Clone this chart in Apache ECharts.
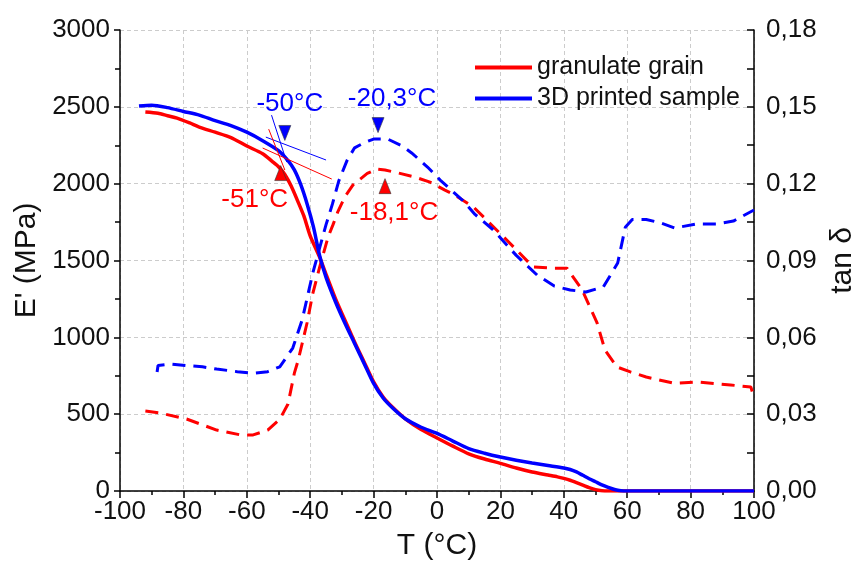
<!DOCTYPE html>
<html>
<head>
<meta charset="utf-8">
<script src="https://cdn.jsdelivr.net/npm/echarts@6/dist/echarts.min.js"></script>
<style>html,body{margin:0;padding:0;background:#fff}#c{width:851px;height:572px}</style>
</head>
<body>
<div id="c"></div>
<script>
// ---- data ----
const xTicks = [-100, -80, -60, -40, -20, 0, 20, 40, 60, 80, 100];
const seriesNames = ['granulate grain', '3D printed sample'];

// Storage modulus E' (MPa)
const tempRedE = [-92, -88, -85, -82, -78, -75, -70, -65, -60, -55, -52, -50, -48, -46, -44, -42, -40, -37, -35, -32, -29, -26, -23, -20, -17, -14, -10, -5, 0, 5, 10, 15, 20, 25, 30, 35, 38, 40, 42, 44, 46, 48, 50, 52, 54, 60, 70, 80, 90, 100];
const redE = [2466, 2458, 2442, 2427, 2395, 2368, 2335, 2300, 2245, 2195, 2145, 2110, 2060, 1985, 1890, 1790, 1660, 1520, 1410, 1250, 1110, 970, 840, 710, 612, 545, 470, 400, 345, 292, 242, 208, 180, 150, 124, 104, 92, 82, 70, 54, 38, 22, 9, 2, 0, 0, 0, 0, 0, 0];

const tempBlueE = [-94, -90, -85, -80, -75, -70, -65, -60, -55, -50, -47, -45, -43, -41, -39, -37, -35, -32, -29, -26, -23, -20, -17, -14, -10, -5, 0, 5, 10, 15, 20, 25, 30, 35, 40, 42, 44, 46, 48, 50, 52, 54, 56, 58, 60, 70, 80, 90, 100];
const blueE = [2505, 2511, 2495, 2470, 2446, 2410, 2378, 2335, 2280, 2215, 2150, 2090, 1995, 1870, 1720, 1530, 1390, 1230, 1090, 960, 830, 700, 605, 540, 470, 415, 375, 325, 276, 246, 221, 200, 182, 166, 150, 140, 124, 102, 80, 60, 40, 24, 10, 2, 0, 0, 0, 0, 0];

// Loss factor tan delta
const tempRedTan = [-92, -87.5, -79, -69.5, -62, -58, -53.4, -49.6, -47, -45, -43.8, -41, -39.2, -37, -34.4, -32.8, -31.3, -29, -26.5, -22, -19, -16.4, -13.3, -7, -2.2, 2.5, 5, 11.4, 22, 30.3, 36.6, 41, 45.8, 50.5, 53, 56.8, 61, 66, 75, 82, 92.6, 99, 100];
const redTan = [0.0312, 0.0305, 0.0281, 0.0238, 0.0219, 0.0219, 0.0238, 0.028, 0.034, 0.046, 0.051, 0.0656, 0.077, 0.0875, 0.099, 0.104, 0.109, 0.115, 0.1195, 0.124, 0.1257, 0.1253, 0.1245, 0.1226, 0.1206, 0.1175, 0.116, 0.111, 0.098, 0.0875, 0.087, 0.087, 0.0785, 0.0656, 0.055, 0.0484, 0.0465, 0.0445, 0.042, 0.0426, 0.0414, 0.0406, 0.0367];

const tempBlueTan = [-88.3, -88, -84, -79, -74, -69.5, -63, -58, -53.4, -49.6, -45.5, -42.5, -39.2, -37, -35, -33, -31, -28.4, -26, -23, -20, -15.5, -11, -8, -3, 1, 8, 12, 17.7, 25, 31.6, 37, 42, 47, 52.5, 57, 59.4, 61.6, 66, 70.5, 75, 82, 88.5, 93.5, 100];
const blueTan = [0.0465, 0.049, 0.0496, 0.049, 0.0485, 0.0476, 0.0466, 0.046, 0.0466, 0.0485, 0.0558, 0.067, 0.085, 0.095, 0.104, 0.112, 0.121, 0.129, 0.134, 0.136, 0.1374, 0.1374, 0.1347, 0.132, 0.1265, 0.1214, 0.1136, 0.108, 0.102, 0.092, 0.0843, 0.080, 0.0785, 0.0777, 0.0797, 0.089, 0.103, 0.106, 0.106, 0.1047, 0.1027, 0.1043, 0.1043, 0.1054, 0.1097];

// Tangent construction lines (onset), on E' axis: [x, E']
const blueTangentSteep = [[-52.2, 2446], [-47.4, 2140]];
const blueTangentFlat = [[-54, 2303], [-35, 2154]];
const redTangentSteep = [[-53.1, 2355], [-48, 2089]];
const redTangentFlat = [[-55, 2232], [-33.2, 2030]];

// Marked transition temperatures: [x, E'] and labels
const blueMarks = [[-48, 2330], [-18.6, 2381]];
const blueMarkLabels = ['-50°C', '-20,3°C'];
const redMarks = [[-49.3, 2069], [-16.4, 1984]];
const redMarkLabels = ['-51°C', '-18,1°C'];

// ---- chart ----
const RED = '#ff0000', BLUE = '#0000ff';
const FONT = "'Liberation Sans', Arial, sans-serif";
const zip = (a, b) => a.map((v, i) => [v, b[i]]);

const chart = echarts.init(document.getElementById('c'), null, {renderer: 'canvas'});
const axisLine = {show: true, onZero: false, lineStyle: {color: '#000', width: 1.5}};
const splitLine = {show: true, lineStyle: {color: '#cccccc', type: [4, 3], width: 1}};

chart.setOption({
  animation: false,
  backgroundColor: '#fff',
  textStyle: {fontFamily: FONT},
  grid: {left: 120, right: 97, top: 30, bottom: 81, containLabel: false, outerBoundsMode: 'none'},
  legend: {
    show: true,
    data: seriesNames,
    orient: 'vertical',
    left: 470, top: 50,
    itemWidth: 57, itemHeight: 4, itemGap: 6,
    icon: 'rect',
    textStyle: {fontSize: 25, color: '#111', fontFamily: FONT, padding: [0, 0, 0, 0]}
  },
  xAxis: {
    type: 'value', min: -100, max: 100, interval: 20,
    name: 'T (°C)', nameLocation: 'middle', nameGap: 40,
    nameTextStyle: {fontSize: 30, color: '#111', fontFamily: FONT},
    axisLine: axisLine,
    axisTick: {show: true, length: 7, lineStyle: {color: '#000', width: 1.5}},
    minorTick: {show: true, splitNumber: 2, length: 4, lineStyle: {color: '#000', width: 1.5}},
    axisLabel: {fontSize: 26, color: '#111', margin: 8, fontFamily: FONT,
      formatter: v => String(v)},
    splitLine: splitLine
  },
  yAxis: [{
    type: 'value', min: 0, max: 3000, interval: 500, position: 'left',
    name: "E' (MPa)", nameLocation: 'middle', nameGap: 72,
    nameTextStyle: {fontSize: 30, color: '#111', fontFamily: FONT},
    axisLine: axisLine,
    axisTick: {show: true, length: 6, lineStyle: {color: '#000', width: 1.5}},
    minorTick: {show: true, splitNumber: 2, length: 5, lineStyle: {color: '#000', width: 1.5}},
    axisLabel: {fontSize: 26, color: '#111', margin: 10, fontFamily: FONT, formatter: v => String(v)},
    splitLine: splitLine
  }, {
    type: 'value', min: 0, max: 0.18, interval: 0.03, position: 'right',
    name: 'tan δ', nameLocation: 'middle', nameGap: 62,
    nameTextStyle: {fontSize: 30, color: '#111', fontFamily: FONT},
    axisLine: axisLine,
    axisTick: {show: true, inside: true, length: 7, lineStyle: {color: '#000', width: 1.5}},
    minorTick: {show: true, splitNumber: 2, length: 7, lineStyle: {color: '#000', width: 1.5}},
    axisLabel: {fontSize: 26, color: '#111', margin: 12, fontFamily: FONT,
      formatter: v => v.toFixed(2).replace('.', ',')},
    splitLine: {show: false}
  }],
  series: [
    {name: 'tan δ ' + seriesNames[0], type: 'line', yAxisIndex: 1, data: zip(tempRedTan, redTan),
      showSymbol: false, symbol: 'none', lineStyle: {color: RED, width: 3, type: [13, 8]}, itemStyle: {color: RED}, z: 2},
    {name: 'tan δ ' + seriesNames[1], type: 'line', yAxisIndex: 1, data: zip(tempBlueTan, blueTan),
      showSymbol: false, symbol: 'none', lineStyle: {color: BLUE, width: 3, type: [13, 8]}, itemStyle: {color: BLUE}, z: 2},
    {name: seriesNames[0], type: 'line', yAxisIndex: 0, data: zip(tempRedE, redE),
      showSymbol: false, symbol: 'none', smooth: 0.25,
      lineStyle: {color: RED, width: 3.5}, itemStyle: {color: RED}, z: 3},
    {name: seriesNames[1], type: 'line', yAxisIndex: 0, data: zip(tempBlueE, blueE),
      showSymbol: false, symbol: 'none', smooth: 0.25,
      lineStyle: {color: BLUE, width: 3.5}, itemStyle: {color: BLUE}, z: 4},
    {name: 'tb1', type: 'line', data: blueTangentSteep, symbol: 'none', lineStyle: {color: BLUE, width: 1}, z: 5},
    {name: 'tb2', type: 'line', data: blueTangentFlat, symbol: 'none', lineStyle: {color: BLUE, width: 1}, z: 5},
    {name: 'tr1', type: 'line', data: redTangentSteep, symbol: 'none', lineStyle: {color: RED, width: 1}, z: 5},
    {name: 'tr2', type: 'line', data: redTangentFlat, symbol: 'none', lineStyle: {color: RED, width: 1}, z: 5},
    {name: 'mb', type: 'scatter', z: 6,
      data: blueMarks.map((p, i) => ({value: p, label: {formatter: blueMarkLabels[i], offset: i === 0 ? [5, -6] : [14, -3]}})),
      symbol: 'triangle', symbolSize: [12, 15], symbolRotate: 180,
      itemStyle: {color: BLUE, borderColor: '#333', borderWidth: 0.6, opacity: 1},
      label: {show: true, position: 'top', distance: 2, color: BLUE, fontSize: 26, fontFamily: FONT}},
    {name: 'mr', type: 'scatter', z: 6,
      data: redMarks.map((p, i) => ({value: p, label: {formatter: redMarkLabels[i], offset: i === 0 ? [-26, 4] : [9, 4]}})),
      symbol: 'triangle', symbolSize: [12, 15],
      itemStyle: {color: RED, borderColor: '#333', borderWidth: 0.6, opacity: 1},
      label: {show: true, position: 'bottom', distance: 2, color: RED, fontSize: 26, fontFamily: FONT}}
  ]
});
</script>
</body>
</html>
